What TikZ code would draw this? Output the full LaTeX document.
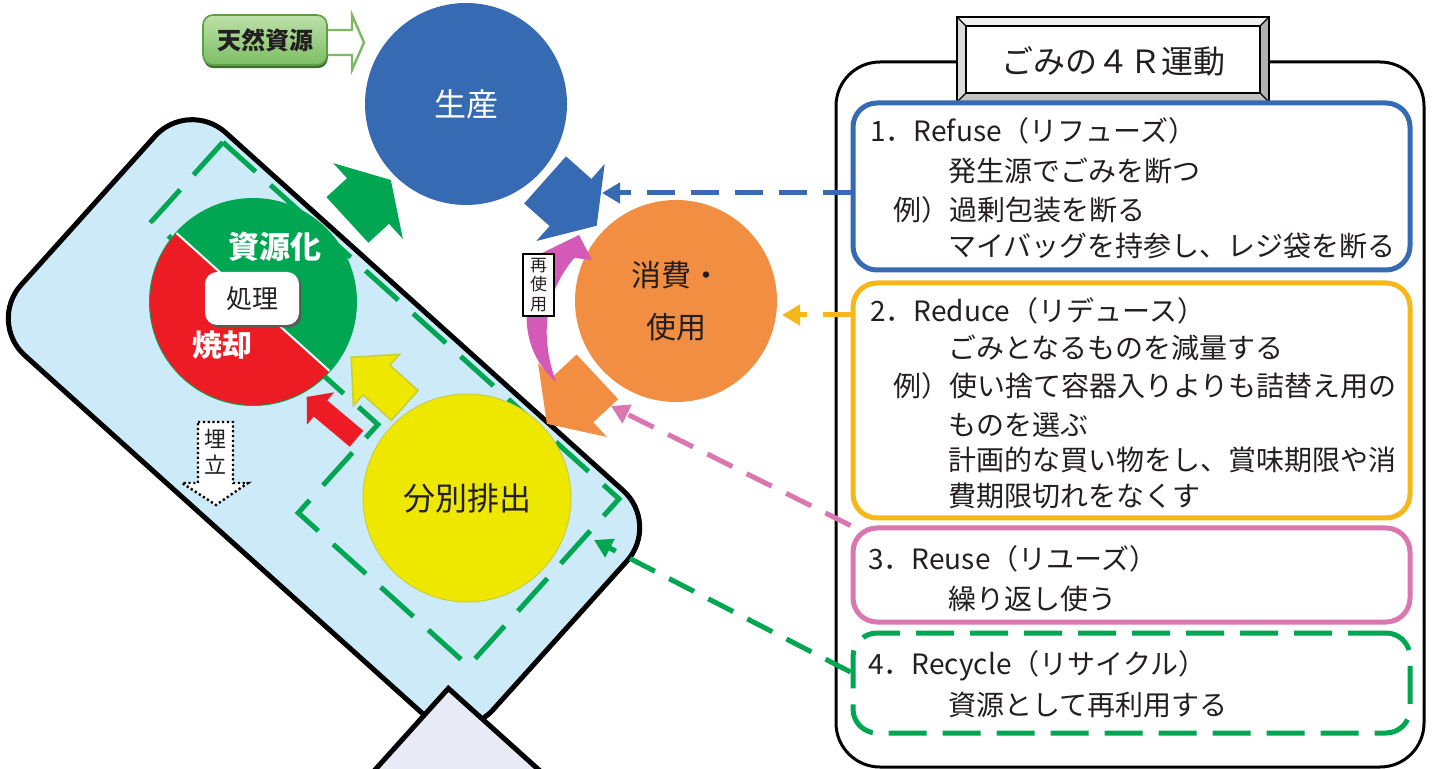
\documentclass[tikz,border=0pt]{standalone}
\usepackage{fontspec}
\setmainfont{Noto Sans CJK JP}
\usetikzlibrary{arrows.meta,shadows}
\definecolor{cblue}{HTML}{366BB4}
\definecolor{corange}{HTML}{F18E42}
\definecolor{cyellow}{HTML}{EEE700}
\definecolor{cyelline}{HTML}{C9CE3C}
\definecolor{cgreen}{HTML}{00A651}
\definecolor{cred}{HTML}{ED1C24}
\definecolor{clight}{HTML}{CCEAF7}
\definecolor{cpink}{HTML}{DA76B0}
\definecolor{cgold}{HTML}{F8B719}
\definecolor{clav}{HTML}{E8EAF6}
\definecolor{cmag}{HTML}{D35AB7}
\definecolor{ctext}{HTML}{231F20}
\definecolor{natA}{HTML}{BDE1A9}
\definecolor{natB}{HTML}{7CBE64}
\definecolor{natC}{HTML}{5E9E44}
\definecolor{natD}{HTML}{3E6E2C}
\definecolor{natE}{HTML}{7DB962}
\newcommand{\barr}[7]{\fill[#1,shift={(#2)},rotate=#3] (0,-#4) -- (#5,0) -- (0,#4) -- (0,#6) -- (-#7,#6) -- (-#7,-#6) -- (0,-#6) -- cycle;}
\begin{document}
\begin{tikzpicture}[x=0.5pt,y=-0.5pt,
  bigzone/.style={fill=clight, draw=black, line width=2.5pt, rounded corners=25pt},
  ldash/.style={draw=cgreen, line width=2.5pt, dash pattern=on 22pt off 10pt},
  conn/.style={line width=2.5pt, dash pattern=on 14pt off 8pt, -{Triangle[length=9pt,width=10pt]}},
  circ/.style={circle, inner sep=0pt},
  rbox/.style={draw, line width=2.5pt, rounded corners=12pt, minimum width=278.5pt, inner sep=0pt},
  txt/.style={anchor=base west, inner sep=0pt, font=\fontsize{14}{16}\selectfont, text=ctext},
]
\useasboundingbox (0,0) rectangle (1434,769);
\begin{scope}
\clip (0,0) rectangle (1434,769);
% big zone
\begin{scope}[shift={(324,423)}, rotate=-42]
  \draw[bigzone] (-317.5,-150) -- (317.5,-150) -- (317.5,150) -- (-317.5,150) -- cycle;
  \draw[fill=clav, draw=black, line width=2.5pt] (270,114) -- (480,114) -- (480,330) -- (270,330) -- cycle;
\end{scope}
% block arrows inside zone
\barr{cred}{320.5,408.5}{140}{21}{18}{10.5}{47}
\barr{cyellow,draw=cyelline,line width=0.8pt}{376.5,380}{138}{34.5}{34}{20}{38}
% green dashed L
\begin{scope}[shift={(324,423)}, rotate=-42]
  \draw[ldash] (-263,-141) -- (270,-141) -- (270,84) -- (41,84) -- (41,-35) -- (-263,-35) -- cycle;
\end{scope}
% landfill arrow
\filldraw[fill=white, draw=black, line width=1.2pt, dash pattern=on 1.1pt off 1.3pt] (198,422) -- (233,422) -- (233,483) -- (248,483) -- (216,505) -- (182,483) -- (198,483) -- cycle;
\node[align=center, font=\fontsize{11}{13}\selectfont, text=ctext, inner sep=0pt] (umetate) at (215,452) {埋\\立};
% treatment circle
\node[circ, fill=cgreen, minimum size=104pt] (shori) at (253,302) {};
\fill[cred] (shori.center) ++(42:103) arc[start angle=42, end angle=222, radius=103] -- cycle;
\draw[white, line width=1pt] (shori.center) ++(42:103) -- ++(222:206);
\node[font=\bfseries\fontsize{15.5}{16}\selectfont, text=white, inner sep=0pt] (shigenka) at (275,247) {資源化};
\node[font=\bfseries\fontsize{15}{16}\selectfont, text=white, inner sep=0pt] (shokyaku) at (222,345) {焼却};
\node[fill=white, rounded corners=6pt, minimum width=47pt, minimum height=26.5pt, inner sep=0pt,
      drop shadow={shadow xshift=1.2pt, shadow yshift=-1.2pt, fill=black!65, opacity=1},
      font=\fontsize{13}{13}\selectfont, text=ctext] (shoribox) at (252,298.5) {処理};
% sorting circle
\node[circ, fill=cyellow, draw=cyelline, line width=0.5pt, minimum size=104pt,
      font=\fontsize{16}{16}\selectfont, text=ctext] (bunbetsu) at (467,498) {分別排出};
% green block arrow
\barr{cgreen}{368,201}{42.6}{51.5}{31}{31}{28}
% natural resources
\filldraw[fill=white, draw=natE, line width=1.2pt] (322,30) -- (352,30) -- (352,15) -- (364,42.5) -- (352,70) -- (352,55) -- (322,55);
\node[rounded corners=5pt, top color=natA, bottom color=natB, draw=natC, line width=0.8pt,
      minimum width=62pt, minimum height=25pt, inner sep=0pt,
      drop shadow={shadow xshift=0.4pt, shadow yshift=-1.6pt, fill=natD, opacity=1},
      font=\bfseries\fontsize{12}{12}\selectfont, text=ctext] (tennen) at (265,40) {天然資源};
% production and consumption
\node[circ, fill=cblue, minimum size=101pt, text=white, font=\fontsize{16}{16}\selectfont] (seisan) at (466,104) {生産};
\node[circ, fill=corange, minimum size=101pt, text=ctext, align=center, font=\fontsize{15}{26}\selectfont] (shohi) at (676,301) {消費・\\使用};
\barr{cblue}{570.5,202.5}{-41.6}{51.5}{35}{31.5}{34}
\barr{corange}{572.5,400}{-137}{50.5}{35}{30.5}{34}
% reuse arrow
\fill[cmag] (550,254) .. controls (517,295) and (519,350) .. (556,382) .. controls (541,340) and (542,296) .. (575,257) -- cycle;
\fill[cmag] (540,254) -- (579,235) -- (592,260) -- cycle;
\node[draw=black, line width=1pt, fill=white, inner sep=0pt, align=center, minimum width=15.5pt, minimum height=31pt,
      font=\fontsize{8.5}{9.8}\selectfont, text=ctext] (saishiyo) at (538.5,285) {再\\使\\用};
\end{scope}
% right panel
\node[draw=black, line width=1.5pt, rounded corners=22pt, minimum width=294pt, minimum height=352.5pt, inner sep=0pt] (panel) at (1130,414.5) {};
\node[draw=black, line width=1.2pt, fill=gray!45, minimum width=155pt, minimum height=41.5pt, inner sep=0pt] (ttl) at (1113,59.5) {};
\coordinate (iNW) at ([xshift=4.5pt,yshift=-4.5pt]ttl.north west);
\coordinate (iNE) at ([xshift=-4.5pt,yshift=-4.5pt]ttl.north east);
\coordinate (iSW) at ([xshift=4.5pt,yshift=4.5pt]ttl.south west);
\coordinate (iSE) at ([xshift=-4.5pt,yshift=4.5pt]ttl.south east);
\fill[gray!12] (ttl.north west) -- (ttl.north east) -- (iNE) -- (iNW) -- cycle;
\fill[gray!28] (ttl.north west) -- (iNW) -- (iSW) -- (ttl.south west) -- cycle;
\fill[gray!60] (ttl.north east) -- (iNE) -- (iSE) -- (ttl.south east) -- cycle;
\fill[gray!48] (ttl.south west) -- (iSW) -- (iSE) -- (ttl.south east) -- cycle;
\draw[black, line width=0.6pt] (ttl.north west) -- (iNW) (ttl.north east) -- (iNE) (ttl.south west) -- (iSW) (ttl.south east) -- (iSE);
\draw[black, line width=1.2pt, fill=white] (iNW) rectangle (iSE);
\draw[black, line width=1.2pt] (ttl.north west) rectangle (ttl.south east);
\node[font=\fontsize{16}{16}\selectfont, text=ctext, inner sep=0pt] (ttltext) at (1113,61) {ごみの４Ｒ運動};
\node[rbox, draw=cblue, minimum height=83.5pt] (box1) at (1131.5,186.5) {};
\node[rbox, draw=cgold, minimum height=117.5pt] (box2) at (1131.5,400.5) {};
\node[rbox, draw=cpink, minimum height=47pt] (box3) at (1131.5,575) {};
\node[rbox, draw=cgreen, dash pattern=on 19pt off 8pt, minimum height=50pt] (box4) at (1131.5,683) {};
% texts
\node[txt] (a1) at (870,142) {1．Refuse（リフューズ）};
\node[txt] (a2) at (948,182) {発生源でごみを断つ};
\node[txt] (a3) at (893,221) {例）過剰包装を断る};
\node[txt] (a4) at (948,257) {マイバッグを持参し、レジ袋を断る};
\node[txt] (b1) at (870,322) {2．Reduce（リデュース）};
\node[txt] (b2) at (948,359) {ごみとなるものを減量する};
\node[txt] (b3) at (893,397) {例）使い捨て容器入りよりも詰替え用の};
\node[txt] (b4) at (948,436) {ものを選ぶ};
\node[txt] (b5) at (948,471) {計画的な買い物をし、賞味期限や消};
\node[txt] (b6) at (948,507) {費期限切れをなくす};
\node[txt] (c1) at (868,569) {3．Reuse（リユーズ）};
\node[txt] (c2) at (948,609) {繰り返し使う};
\node[txt] (d1) at (868,674) {4．Recycle（リサイクル）};
\node[txt] (d2) at (948,715) {資源として再利用する};
% connectors
\coordinate (tA) at (602,193);
\coordinate (tB) at (782,315);
\coordinate (tC) at (611,406);
\coordinate (tD) at (594,540);
\draw[conn, cblue] (box1.west |- tA) -- (tA);
\draw[conn, cgold] (box2.west |- tB) -- (tB);
\draw[conn, cpink] (box3.north west) -- (tC);
\draw[conn, cgreen] ([yshift=5.5pt]box4.west) -- (tD);
\end{tikzpicture}
\end{document}
